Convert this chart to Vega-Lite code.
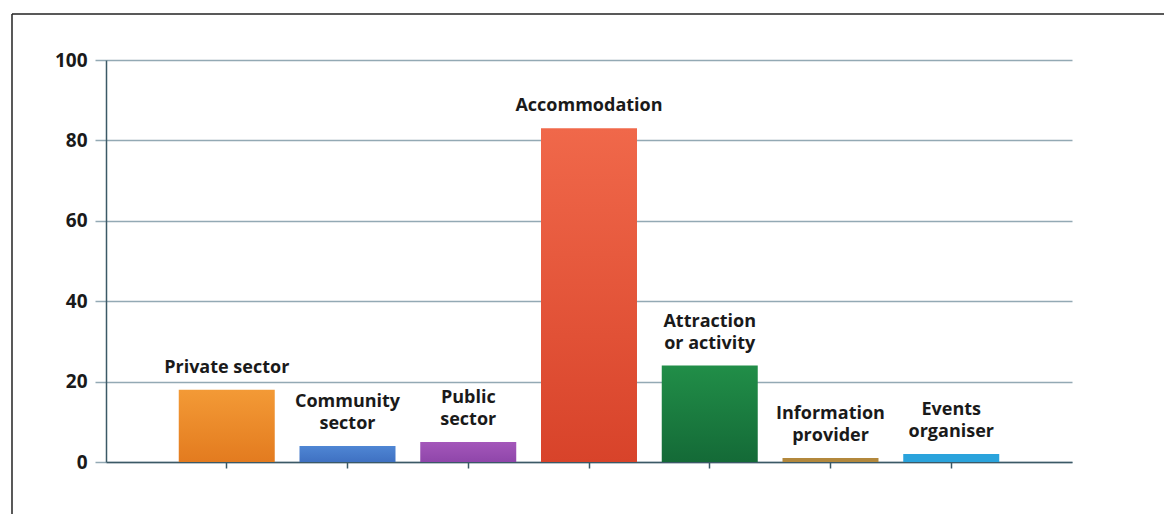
{
  "$schema": "https://vega.github.io/schema/vega-lite/v6.json",
  "width": 966,
  "height": 402,
  "autosize": {"type": "none"},
  "padding": {"left": 106, "top": 60, "right": 92, "bottom": 52},
  "background": "white",
  "config": {"view": {"stroke": null}, "font": "Open Sans"},
  "data": {"values": [
    {"cat": "Private sector", "line1": "", "line2": "Private sector", "value": 18},
    {"cat": "Community sector", "line1": "Community", "line2": "sector", "value": 4},
    {"cat": "Public sector", "line1": "Public", "line2": "sector", "value": 5},
    {"cat": "Accommodation", "line1": "", "line2": "Accommodation", "value": 83},
    {"cat": "Attraction or activity", "line1": "Attraction", "line2": "or activity", "value": 24},
    {"cat": "Information provider", "line1": "Information", "line2": "provider", "value": 1},
    {"cat": "Events organiser", "line1": "Events", "line2": "organiser", "value": 2}
  ]},
  "layer": [
    {
      "encoding": {
        "x": {"field": "cat", "type": "nominal", "sort": null,
              "scale": {"paddingInner": 0.205, "paddingOuter": 0.6025},
              "axis": {"labels": false, "title": null, "domainColor": "#3b5966", "domainWidth": 1.5,
                       "tickColor": "#3b5966", "tickSize": 6, "tickWidth": 1.5, "grid": false, "bandPosition": 0.5}},
        "y": {"field": "value", "type": "quantitative",
              "scale": {"domain": [0, 100], "nice": false, "zero": true},
              "axis": {"values": [0, 20, 40, 60, 80, 100], "grid": true, "gridColor": "#93a9b4", "gridWidth": 1.5,
                       "tickColor": "#93a9b4", "tickSize": 11, "tickWidth": 1.5,
                       "domainColor": "#3b5966", "domainWidth": 1.5,
                       "labelFont": "Open Sans", "labelFontWeight": "bold", "labelFontSize": 19,
                       "labelColor": "#1a1a1a", "labelPadding": 8, "title": null}}
      },
      "layer": [
        {
          "mark": {"type": "bar"},
          "encoding": {
            "color": {
              "condition": [
                {"test": "datum.cat === 'Private sector'", "value": {"gradient": "linear", "x1": 0, "y1": 0, "x2": 0, "y2": 1, "stops": [{"offset": 0, "color": "#f39a36"}, {"offset": 1, "color": "#e37b1f"}]}},
                {"test": "datum.cat === 'Community sector'", "value": {"gradient": "linear", "x1": 0, "y1": 0, "x2": 0, "y2": 1, "stops": [{"offset": 0, "color": "#4f86d4"}, {"offset": 1, "color": "#3f71c2"}]}},
                {"test": "datum.cat === 'Public sector'", "value": {"gradient": "linear", "x1": 0, "y1": 0, "x2": 0, "y2": 1, "stops": [{"offset": 0, "color": "#a457ba"}, {"offset": 1, "color": "#8f46aa"}]}},
                {"test": "datum.cat === 'Accommodation'", "value": {"gradient": "linear", "x1": 0, "y1": 0, "x2": 0, "y2": 1, "stops": [{"offset": 0, "color": "#f0684a"}, {"offset": 1, "color": "#d8432a"}]}},
                {"test": "datum.cat === 'Attraction or activity'", "value": {"gradient": "linear", "x1": 0, "y1": 0, "x2": 0, "y2": 1, "stops": [{"offset": 0, "color": "#218e48"}, {"offset": 1, "color": "#146a37"}]}},
                {"test": "datum.cat === 'Information provider'", "value": "#b3883c"}
              ],
              "value": "#2aa3dc"
            }
          }
        },
        {
          "mark": {"type": "text", "align": "center", "baseline": "alphabetic", "dy": -17,
                   "font": "Open Sans", "fontWeight": "bold", "fontSize": 18, "color": "#1a1a1a"},
          "encoding": {"text": {"field": "line2"}}
        },
        {
          "mark": {"type": "text", "align": "center", "baseline": "alphabetic", "dy": -39,
                   "font": "Open Sans", "fontWeight": "bold", "fontSize": 18, "color": "#1a1a1a"},
          "encoding": {"text": {"field": "line1"}}
        }
      ]
    },
    {
      "data": {"values": [{}]},
      "mark": {"type": "rule", "color": "#222222", "strokeWidth": 1.5},
      "encoding": {
        "x": {"datum": -0.7785, "type": "quantitative", "scale": {"domain": [0, 8], "nice": false, "zero": false}, "axis": null},
        "y": {"datum": 111.44, "type": "quantitative"},
        "y2": {"datum": -16.9}
      }
    },
    {
      "data": {"values": [{}]},
      "mark": {"type": "rule", "color": "#222222", "strokeWidth": 1.5},
      "encoding": {
        "x": {"datum": -0.7785, "type": "quantitative", "scale": {"domain": [0, 8], "nice": false, "zero": false}, "axis": null},
        "x2": {"datum": 9},
        "y": {"datum": 111.44, "type": "quantitative"}
      }
    }
  ],
  "resolve": {"scale": {"x": "independent"}, "axis": {"x": "independent"}}
}
